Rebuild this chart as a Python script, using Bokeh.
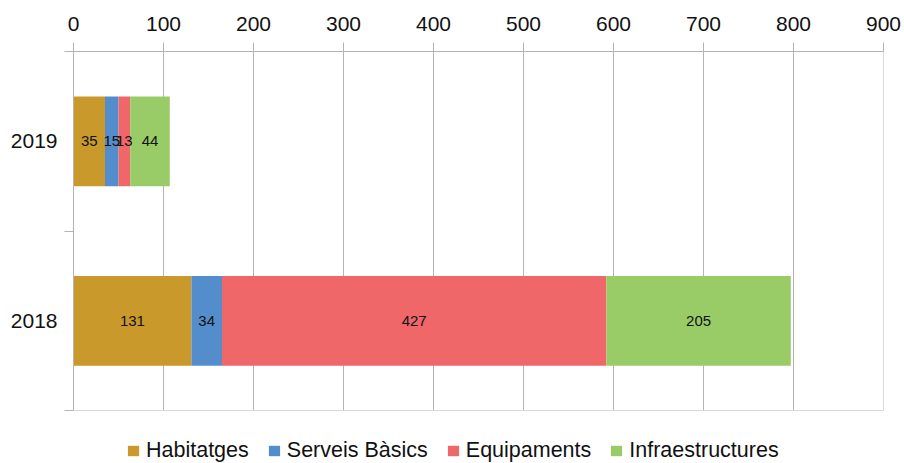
from bokeh.plotting import figure
from bokeh.models import (ColumnDataSource, Range1d, FixedTicker,
                          Legend, LegendItem, Span)
from bokeh.core.properties import value
from bokeh.embed import file_html
from bokeh.resources import INLINE

# Data
years = ["2018", "2019"]
series = ["Habitatges", "Serveis Bàsics", "Equipaments", "Infraestructures"]
habitatges = [131, 35]
serveis = [34, 15]
equipaments = [427, 13]
infraestructures = [205, 44]
colors = ["#C9992B", "#538DCB", "#F0676A", "#99CC66"]
x_ticks = [0, 100, 200, 300, 400, 500, 600, 700, 800, 900]

FONT = "Liberation Sans"
GRID = "#b3b3b3"

keys = ["hab", "ser", "equ", "inf"]
values = [habitatges, serveis, equipaments, infraestructures]
ypos = [i + 0.5 for i in range(len(years))]
n = len(years)

data = {"y": ypos}
for k, v in zip(keys, values):
    data[k] = v
source = ColumnDataSource(data)

# The frame runs down to the bottom edge so the legend can sit inside it;
# the chart itself occupies y in [0, n] (359 px), the strip below holds the legend.
plot_px = 359.0
legend_px = 53.0
y_low = -legend_px / plot_px * n

p = figure(width=904, height=463, output_backend="svg", toolbar_location=None,
           x_range=Range1d(0, 900), y_range=Range1d(y_low, n),
           x_axis_location="above", min_border_left=73, min_border_right=21,
           min_border_top=51, min_border_bottom=0)
p.outline_line_color = None
p.background_fill_color = "white"
p.border_fill_color = "white"

# vertical grid lines, limited to the chart band
p.segment(x0=x_ticks[1:], y0=0, x1=x_ticks[1:], y1=n, line_color=GRID, line_width=1)
p.add_layout(Span(location=0, dimension="width", line_color="#d9d9d9", line_width=1))

renderers = p.hbar_stack(keys, y="y", height=0.5, color=colors, source=source,
                         line_color=None)

# value labels centred in each segment
lab_x, lab_y, lab_t = [], [], []
for j in range(n):
    start = 0
    for v in values:
        val = v[j]
        lab_x.append(start + val / 2)
        lab_y.append(ypos[j])
        lab_t.append(str(val))
        start += val
p.text(x=lab_x, y=lab_y, text=lab_t, text_align="center", text_baseline="middle",
       text_font=value(FONT), text_font_size="15px", text_color="#111111")

# x axis (top)
xa = p.xaxis[0]
xa.ticker = FixedTicker(ticks=x_ticks)
xa.axis_line_color = GRID
xa.major_tick_line_color = GRID
xa.major_tick_in = 0
xa.major_tick_out = 9
xa.minor_tick_line_color = None
xa.major_label_text_font = FONT
xa.major_label_text_font_size = "21px"
xa.major_label_text_color = "#111111"
xa.major_label_standoff = 12

# y axis with year labels between boundary ticks
ya = p.yaxis[0]
ya.bounds = (0, n)
ya.ticker = FixedTicker(ticks=ypos, minor_ticks=list(range(n + 1)))
ya.major_label_overrides = {y: t for y, t in zip(ypos, years)}
ya.axis_line_color = GRID
ya.major_tick_line_color = None
ya.major_tick_in = 0
ya.major_tick_out = 0
ya.minor_tick_line_color = GRID
ya.minor_tick_in = 0
ya.minor_tick_out = 9
ya.major_label_text_font = FONT
ya.major_label_text_font_size = "21px"
ya.major_label_text_color = "#111111"
ya.major_label_standoff = 7

p.xgrid.grid_line_color = None
p.ygrid.grid_line_color = None

legend = Legend(items=[LegendItem(label=s, renderers=[r]) for s, r in zip(series, renderers)],
                orientation="horizontal", location=(53, 0),
                glyph_width=14, glyph_height=13, label_standoff=6, spacing=18,
                label_text_font=FONT, label_text_font_size="21.5px",
                label_text_color="#111111", border_line_color=None,
                background_fill_alpha=0, padding=0, margin=0)
p.add_layout(legend, "center")

open("out.html", "w").write(file_html(p, INLINE))
